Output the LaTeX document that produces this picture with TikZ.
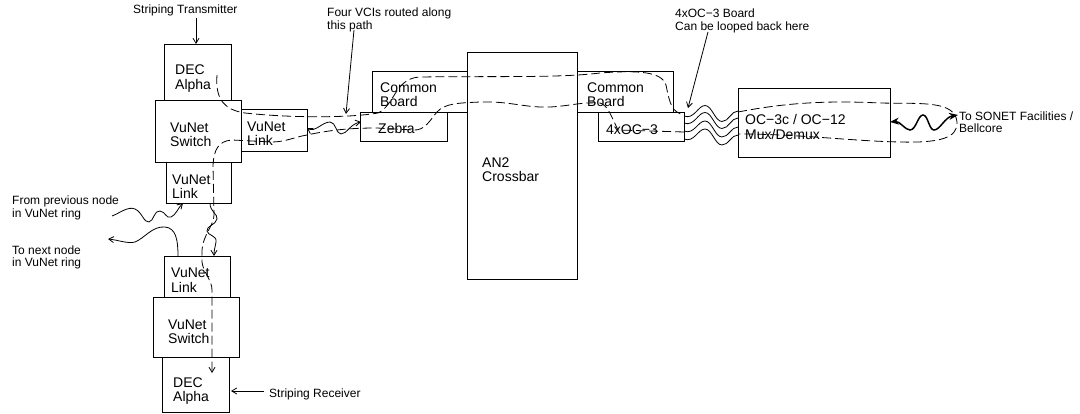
\documentclass[tikz,border=0pt]{standalone}
\usepackage{fontspec}
\setmainfont{Liberation Sans}
\usetikzlibrary{arrows.meta}
\begin{document}
\begin{tikzpicture}[x=1pt,y=-1pt,
  box/.style={draw, line width=0.9pt, inner sep=0pt, anchor=north west},
  btxt/.style={font=\fontsize{14}{15}\selectfont, anchor=base west, inner sep=0pt},
  ltxt/.style={font=\fontsize{12}{13}\selectfont, anchor=base west, inner sep=0pt},
  ln/.style={line width=0.8pt},
  dsh/.style={line width=0.8pt, dash pattern=on 9pt off 4pt},
  tip/.style={-{Straight Barb[length=5pt,width=6pt]}},
  tips/.style={{Straight Barb[length=5pt,width=6pt]}-{Straight Barb[length=5pt,width=6pt]}},
  bold/.style={line width=1.5pt, {Stealth[length=9pt,width=7pt]}-{Stealth[length=9pt,width=7pt]}}]
\useasboundingbox (0,0) rectangle (1080,414);

% ---- boxes
\node[box, minimum width=67pt, minimum height=56pt] (alphaT) at (164,44) {};
\node[box, minimum width=86pt, minimum height=62pt] (switchT) at (155,100) {};
\node[box, minimum width=66pt, minimum height=42pt] (linkR) at (241,109) {};
\node[box, minimum width=65pt, minimum height=41pt] (linkT) at (166,162) {};
\node[box, minimum width=66pt, minimum height=41pt] (linkB) at (164,256) {};
\node[box, minimum width=86pt, minimum height=60pt] (switchB) at (153,297) {};
\node[box, minimum width=67pt, minimum height=55pt] (alphaB) at (162,357) {};
\node[box, minimum width=95pt, minimum height=41pt] (commonL) at (372,71) {};
\node[box, minimum width=87pt, minimum height=29pt] (zebra) at (360,112) {};
\node[box, minimum width=110pt, minimum height=227pt] (an2) at (467,52) {};
\node[box, minimum width=96pt, minimum height=41pt] (commonR) at (577,71) {};
\node[box, minimum width=86pt, minimum height=29pt] (oc3) at (598,112) {};
\node[box, minimum width=152pt, minimum height=69pt] (mux) at (738,88) {};

% ---- box texts
\node[btxt] (t1) at (175,75) {DEC};
\node[btxt] (t2) at (175,90) {Alpha};
\node[btxt] (t3) at (170,133) {VuNet};
\node[btxt] (t4) at (170,147) {Switch};
\node[btxt] (t5) at (247,132) {VuNet};
\node[btxt] (t6) at (247,146) {Link};
\node[btxt] (t7) at (172,185) {VuNet};
\node[btxt] (t8) at (172,199) {Link};
\node[btxt] (t9) at (171,278) {VuNet};
\node[btxt] (t10) at (171,293) {Link};
\node[btxt] (t11) at (168,330) {VuNet};
\node[btxt] (t12) at (168,344) {Switch};
\node[btxt] (t13) at (173,387) {DEC};
\node[btxt] (t14) at (173,401) {Alpha};
\node[btxt] (t15) at (380,93) {Common};
\node[btxt] (t16) at (380,107) {Board};
\node[btxt] (t17) at (378,134) {Zebra};
\node[btxt] (t18) at (482,168) {AN2};
\node[btxt] (t19) at (482,182) {Crossbar};
\node[btxt] (t20) at (587,93) {Common};
\node[btxt] (t21) at (587,107) {Board};
\node[btxt] (t22) at (606,135) {4xOC−3};
\node[btxt] (t23) at (745,125) {OC−3c / OC−12};
\node[btxt] (t24) at (745,140) {Mux/Demux};

% ---- labels
\node[ltxt] (lST) at (133,14) {Striping Transmitter};
\node[ltxt] (lV1) at (327,17) {Four VCIs routed along};
\node[ltxt] (lV2) at (327,30) {this path};
\node[ltxt] (lO1) at (675,18) {4xOC−3 Board};
\node[ltxt] (lO2) at (675,31) {Can be looped back here};
\node[ltxt] (lS1) at (959,121) {To SONET Facilities /};
\node[ltxt] (lS2) at (959,133) {Bellcore};
\node[ltxt] (lP1) at (12,205) {From previous node};
\node[ltxt] (lP2) at (12,218) {in VuNet ring};
\node[ltxt] (lN1) at (12,255) {To next node};
\node[ltxt] (lN2) at (12,267) {in VuNet ring};
\node[ltxt] (lSR) at (269,397) {Striping Receiver};

% ---- label arrows
\coordinate (a1s) at (196,18); \coordinate (a1e) at (196,44);
\draw[ln,tip] (a1s) -- (a1e);
\coordinate (a2s) at (354,30); \coordinate (a2e) at (346,114);
\draw[ln,tip] (a2s) -- (a2e);
\coordinate (a3s) at (708,32); \coordinate (a3e) at (688,108);
\draw[ln,tip] (a3s) -- (a3e);
\coordinate (a4s) at (264,391); \coordinate (a4e) at (231,391);
\draw[ln,tip] (a4s) -- (a4e);

% ---- ring wavy arrows
\coordinate (p1) at (112,216); \coordinate (p2) at (183,203);
\draw[ln,tip] (p1) .. controls (120,213) and (128,206) .. (135,209)
  .. controls (142,212) and (144,223) .. (149,222)
  .. controls (154,221) and (154,210) .. (160,211)
  .. controls (166,212) and (166,219) .. (171,217)
  .. controls (176,215) and (178,208) .. (p2);
\coordinate (n1) at (178,256); \coordinate (n2) at (108,239);
\draw[ln,tip] (n1) .. controls (178,240) and (176,228) .. (165,227)
  .. controls (152,226) and (145,238) .. (135,242)
  .. controls (128,244) and (118,240) .. (n2);
\coordinate (v1) at (210,203); \coordinate (v2) at (214,256);
\draw[ln,tip] (v1) .. controls (210,212) and (218,214) .. (217,219)
  .. controls (216,225) and (206,226) .. (207,231)
  .. controls (208,236) and (217,235) .. (216,242)
  .. controls (215,248) and (214,250) .. (v2);

% ---- link to zebra wavy
\coordinate (z1) at (307,128); \coordinate (z2) at (361,122);
\draw[ln,tips] (z1) .. controls (315,133) and (322,122) .. (330,122)
  .. controls (336,122) and (336,134) .. (341,134)
  .. controls (347,134) and (350,124) .. (z2);

% ---- 4xOC-3 to mux wavy lines
\foreach \ya/\yb [count=\i] in {116/111,123/118,131/127,139/135}{
  \pgfmathsetmacro{\m}{(\ya+\yb)/2}
  \coordinate (w\i a) at (684,\ya); \coordinate (w\i b) at (738,\yb);
  \draw[ln] (w\i a) .. controls (694,\ya+4) and (698,\m-8) .. (705,\m-8)
    .. controls (712,\m-8) and (715,\m+8) .. (722,\m+8)
    .. controls (729,\m+8) and (731,\yb) .. (w\i b);
}

% ---- SONET bold wavy
\coordinate (s1) at (890,122); \coordinate (s2) at (958,115);
\draw[bold] (s1) .. controls (900,121) and (905,130) .. (910,130)
  .. controls (916,130) and (918,115) .. (923,115)
  .. controls (928,115) and (929,130) .. (934,130)
  .. controls (940,130) and (945,117) .. (s2);

% ---- dashed VCI paths
\coordinate (d1s) at (217,75); \coordinate (d1e) at (684,115);
\draw[dsh] (d1s) .. controls (215,100) and (225,110) .. (245,113)
  .. controls (290,118) and (350,118) .. (378,113)
  .. controls (395,105) and (395,78) .. (420,77)
  .. controls (500,76) and (560,78) .. (600,73)
  .. controls (640,70) and (662,72) .. (666,85)
  .. controls (670,105) and (672,112) .. (d1e);

\coordinate (d2s) at (684,132); \coordinate (d2e) at (212,373);
\draw[dsh,tip] (d2s) -- (618,130) .. controls (612,118) and (608,105) .. (600,103)
  .. controls (580,102) and (570,106) .. (550,107)
  .. controls (525,108) and (510,101) .. (480,102)
  .. controls (460,103) and (445,103) .. (437,112)
  .. controls (430,120) and (425,131) .. (413,130)
  -- (377,128) .. controls (350,128) and (330,130) .. (307,135)
  .. controls (295,137) and (285,142) .. (272,142)
  -- (232,140) .. controls (218,141) and (214,150) .. (213,165)
  -- (214,215) .. controls (214,225) and (203,235) .. (202,250)
  -- (202,262) .. controls (203,272) and (212,280) .. (212,290)
  -- (d2e);

\coordinate (d3s) at (738,112); \coordinate (d3e) at (738,134);
\draw[dsh] (d3s) .. controls (780,104) and (820,100) .. (880,103)
  .. controls (920,104) and (955,100) .. (957,122)
  .. controls (958,138) and (940,143) .. (900,142)
  .. controls (850,141) and (800,134) .. (d3e);
\end{tikzpicture}
\end{document}
